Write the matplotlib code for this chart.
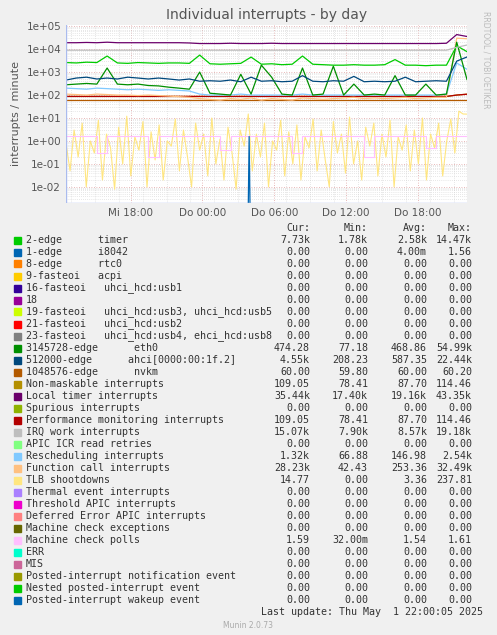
import numpy as np
import matplotlib.pyplot as plt
from matplotlib.ticker import LogLocator, NullFormatter

# time in hours since left edge (Mi ~12:35); Mi 18:00 at 5.4h
t40 = np.linspace(0, 33.5, 40)
t_noise = np.linspace(0, 33.5, 100)

local_timer = [19000, 19000, 19500, 19000, 20000, 19000, 19000, 19000, 19000, 19000, 19000, 19000, 18500,
               17500, 17500, 17500, 18000, 17500, 17500, 17500, 18000, 17500, 17500, 17500, 17500, 17500,
               17500, 17500, 17500, 17500, 17500, 17500, 17500, 17500, 17500, 17500, 17500, 18000, 43000, 35440]
irq_work = [9000] * 38 + [12000, 15070]
timer = [2600, 2500, 2700, 2600, 5000, 2500, 2400, 2600, 2500, 2400, 2500, 2500, 2400, 5500, 2300, 2200,
         2300, 2400, 4500, 2200, 2300, 2100, 2200, 5000, 2200, 2100, 2000, 2000, 2100, 2000, 2000, 2100,
         3500, 2000, 2000, 1900, 2000, 2000, 14000, 7730]
ahci = [450, 550, 600, 500, 550, 500, 600, 550, 500, 550, 500, 450, 500, 400, 420, 400, 450, 380, 600,
        400, 420, 380, 400, 700, 400, 380, 420, 400, 650, 380, 400, 380, 400, 600, 380, 400, 420, 400, 3000, 4550]
eth0 = [280, 300, 320, 300, 1500, 300, 280, 300, 260, 250, 220, 200, 180, 1000, 120, 110, 100, 800, 110,
        2000, 600, 110, 100, 1500, 100, 110, 1800, 100, 300, 100, 110, 100, 700, 100, 100, 300, 100, 110, 20000, 474]
resched = [200, 190, 180, 200, 190, 180, 170, 180, 170, 160, 170, 160, 150, 110, 100, 100, 100, 110, 100,
           100, 100, 100, 100, 110, 100, 100, 100, 100, 100, 100, 100, 100, 100, 100, 100, 100, 100, 110, 2500, 1320]
func_call = [110, 105, 100, 110, 105, 100, 100, 95, 100, 95, 90, 85, 80, 70, 65, 60, 70, 65, 75, 60, 70,
             65, 60, 75, 70, 65, 70, 75, 80, 70, 75, 70, 75, 80, 70, 75, 80, 80, 30000, 28230]
nmi = [87] * 38 + [100, 109]
nvkm = [60] * 40
mce_polls = [1.6, 1.6, 1.6, 0.3, 1.6, 1.6, 1.6, 1.6, 0.2, 1.6, 1.6, 1.6, 1.6, 1.6, 1.6, 0.4, 1.6, 1.6,
             1.6, 1.6, 1.6, 1.6, 0.3, 1.6, 1.6, 1.6, 1.6, 1.6, 1.6, 0.2, 1.6, 1.6, 1.6, 1.6, 1.6, 0.5, 1.6,
             1.6, 1.6, 1.59]
tlb = [0.8, 0.05, 3, 0.2, 6, 0.01, 1, 0.3, 8, 0.02, 2, 0.5, 0.008, 4, 0.1, 12, 0.03, 1.5, 0.4, 7,
       0.01, 2.5, 0.15, 5, 0.02, 1, 0.6, 9, 0.05, 3, 0.2, 0.01, 6, 0.4, 2, 0.03, 10, 0.1, 1.2, 0.02,
       4, 0.3, 0.008, 3, 0.6, 15, 0.05, 2, 0.2, 6, 0.01, 1, 0.4, 8, 0.03, 2.5, 0.1, 5, 0.02, 1.5,
       0.5, 9, 0.05, 3, 0.15, 0.01, 7, 0.3, 2, 0.04, 11, 0.1, 1, 0.02, 4, 0.6, 6, 0.03, 2, 0.2,
       8, 0.01, 1.5, 0.4, 5, 0.05, 3, 0.1, 10, 0.02, 2, 0.5, 6, 0.03, 1, 9, 0.3, 20, 15, 14.77]
i8042_t = [0, 15.2, 15.3, 15.4, 33.5]
i8042 = [1e-4, 1e-4, 1.56, 1e-4, 1e-4]

legend_rows = [
    ("2-edge      timer", "#00CC00", "7.73k", "1.78k", "2.58k", "14.47k"),
    ("1-edge      i8042", "#0066B3", "0.00", "0.00", "4.00m", "1.56"),
    ("8-edge      rtc0", "#FF8000", "0.00", "0.00", "0.00", "0.00"),
    ("9-fasteoi   acpi", "#FFCC00", "0.00", "0.00", "0.00", "0.00"),
    ("16-fasteoi   uhci_hcd:usb1", "#330099", "0.00", "0.00", "0.00", "0.00"),
    ("18", "#990099", "0.00", "0.00", "0.00", "0.00"),
    ("19-fasteoi   uhci_hcd:usb3, uhci_hcd:usb5", "#CCFF00", "0.00", "0.00", "0.00", "0.00"),
    ("21-fasteoi   uhci_hcd:usb2", "#FF0000", "0.00", "0.00", "0.00", "0.00"),
    ("23-fasteoi   uhci_hcd:usb4, ehci_hcd:usb8", "#808080", "0.00", "0.00", "0.00", "0.00"),
    ("3145728-edge      eth0", "#008F00", "474.28", "77.18", "468.86", "54.99k"),
    ("512000-edge      ahci[0000:00:1f.2]", "#00487D", "4.55k", "208.23", "587.35", "22.44k"),
    ("1048576-edge      nvkm", "#B35A00", "60.00", "59.80", "60.00", "60.20"),
    ("Non-maskable interrupts", "#B38F00", "109.05", "78.41", "87.70", "114.46"),
    ("Local timer interrupts", "#6B006B", "35.44k", "17.40k", "19.16k", "43.35k"),
    ("Spurious interrupts", "#8FB300", "0.00", "0.00", "0.00", "0.00"),
    ("Performance monitoring interrupts", "#B30000", "109.05", "78.41", "87.70", "114.46"),
    ("IRQ work interrupts", "#BEBEBE", "15.07k", "7.90k", "8.57k", "19.18k"),
    ("APIC ICR read retries", "#80FF80", "0.00", "0.00", "0.00", "0.00"),
    ("Rescheduling interrupts", "#80C9FF", "1.32k", "66.88", "146.98", "2.54k"),
    ("Function call interrupts", "#FFC080", "28.23k", "42.43", "253.36", "32.49k"),
    ("TLB shootdowns", "#FFE680", "14.77", "0.00", "3.36", "237.81"),
    ("Thermal event interrupts", "#AA80FF", "0.00", "0.00", "0.00", "0.00"),
    ("Threshold APIC interrupts", "#EE00CC", "0.00", "0.00", "0.00", "0.00"),
    ("Deferred Error APIC interrupts", "#FF8080", "0.00", "0.00", "0.00", "0.00"),
    ("Machine check exceptions", "#666600", "0.00", "0.00", "0.00", "0.00"),
    ("Machine check polls", "#FFBFFF", "1.59", "32.00m", "1.54", "1.61"),
    ("ERR", "#00FFCC", "0.00", "0.00", "0.00", "0.00"),
    ("MIS", "#CC6699", "0.00", "0.00", "0.00", "0.00"),
    ("Posted-interrupt notification event", "#999900", "0.00", "0.00", "0.00", "0.00"),
    ("Nested posted-interrupt event", "#00CC00", "0.00", "0.00", "0.00", "0.00"),
    ("Posted-interrupt wakeup event", "#0066B3", "0.00", "0.00", "0.00", "0.00"),
]

W, H = 497, 635
fig = plt.figure(figsize=(W / 100, H / 100), dpi=100, facecolor="#F0F0F0")
ax = fig.add_axes([66 / W, 1 - 203 / H, 401 / W, 178 / H], facecolor="white")

ax.plot(t_noise, tlb, color="#FFE680", lw=0.8)
ax.plot(t40, mce_polls, color="#FFBFFF", lw=0.8, drawstyle="steps-post")
ax.plot(t40, nvkm, color="#B35A00", lw=0.9)
ax.plot(t40, nmi, color="#B38F00", lw=0.9)
ax.plot(t40, nmi, color="#B30000", lw=0.9)
ax.plot(t40, func_call, color="#FFC080", lw=0.9)
ax.plot(t40, resched, color="#80C9FF", lw=0.9)
ax.plot(t40, eth0, color="#008F00", lw=0.9)
ax.plot(t40, ahci, color="#00487D", lw=0.9)
ax.plot(t40, timer, color="#00CC00", lw=0.9)
ax.plot(t40, irq_work, color="#BEBEBE", lw=0.9)
ax.plot(t40, local_timer, color="#6B006B", lw=0.9)
ax.plot(i8042_t, i8042, color="#0066B3", lw=0.9)

ax.set_yscale("log")
ax.set_xlim(0, 33.5)
ax.set_ylim(10 ** -2.7, 10 ** 5.05)
ax.set_yticks([1e-2, 1e-1, 1, 10, 100, 1e3, 1e4, 1e5])
ax.set_yticklabels(["1e-02", "1e-01", "1e+00", "1e+01", "1e+02", "1e+03", "1e+04", "1e+05"])
ax.yaxis.set_minor_locator(LogLocator(base=10, subs=np.arange(2, 10), numticks=20))
ax.yaxis.set_minor_formatter(NullFormatter())
ax.set_xticks([5.4, 11.4, 17.4, 23.4, 29.4])
ax.set_xticklabels(["Mi 18:00", "Do 00:00", "Do 06:00", "Do 12:00", "Do 18:00"])
ax.set_xticks(np.arange(0.4, 33.5, 2), minor=True)
ax.grid(True, which="major", color="#E0A0A0", ls=(0, (1, 2)), lw=0.6)
ax.grid(True, which="minor", color="#D0D0D0", ls=(0, (1, 2)), lw=0.5)
ax.tick_params(labelsize=7.5, colors="#555555", length=0, which="both")
for s in ax.spines.values():
    s.set_visible(False)
ax.axhline(10 ** -2.7, color="#AABBEE", lw=1)
ax.axvline(0, color="#AABBEE", lw=1)
ax.set_ylabel("interrupts / minute", fontsize=8, color="#555555")
ax.set_title("Individual interrupts - by day", fontsize=10, color="#555555", pad=4)

fig.text(486 / W, 1 - 60 / H, "RRDTOOL / TOBI OETIKER", rotation=270, fontsize=5.5,
         color="#BBBBBB", ha="center", va="center")

mono = dict(family="DejaVu Sans Mono", fontsize=7.2, color="#333333", va="center")
cols = [310, 368, 427, 472]
y0 = 228
for c, h in zip(cols, ["Cur:", "Min:", "Avg:", "Max:"]):
    fig.text(c / W, 1 - y0 / H, h, ha="right", **mono)
for i, (lab, col, *vals) in enumerate(legend_rows):
    y = 240 + i * 12.0
    fig.patches.append(plt.Rectangle((14 / W, 1 - (y + 3.5) / H), 7 / W, 7 / H,
                                     transform=fig.transFigure, color=col))
    fig.text(26 / W, 1 - y / H, lab, ha="left", **mono)
    for c, v in zip(cols, vals):
        fig.text(c / W, 1 - y / H, v, ha="right", **mono)
fig.text(483 / W, 1 - 612 / H, "Last update: Thu May  1 22:00:05 2025", ha="right", **mono)
fig.text(248 / W, 1 - 625 / H, "Munin 2.0.73", ha="center", va="center", fontsize=5.5, color="#AAAAAA")

fig.savefig("out.png", dpi=100, facecolor=fig.get_facecolor())
